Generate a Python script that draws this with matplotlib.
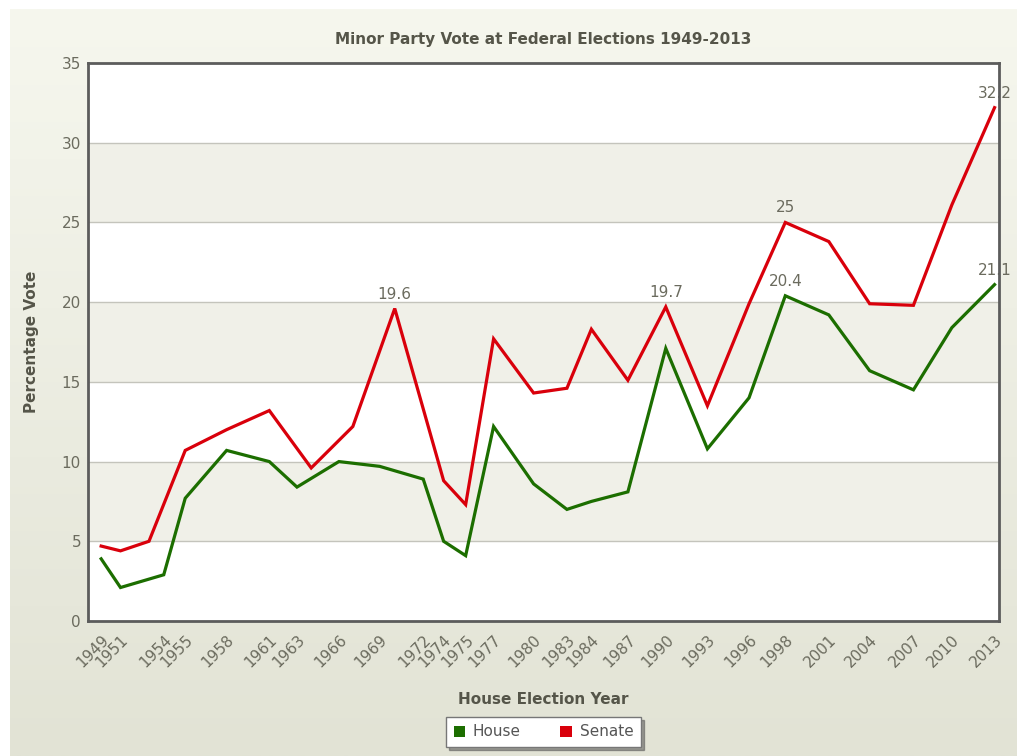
import matplotlib
matplotlib.use('Agg')
import matplotlib.pyplot as plt
import numpy as np
import pandas as pd
from matplotlib.patches import Patch

# House election dates and minor party vote (%)
house_dates = ['1949-12-10', '1951-04-28', '1954-05-29', '1955-12-10', '1958-11-22',
               '1961-12-09', '1963-11-30', '1966-11-26', '1969-10-25', '1972-12-02',
               '1974-05-18', '1975-12-13', '1977-12-10', '1980-10-18', '1983-03-05',
               '1984-12-01', '1987-07-11', '1990-03-24', '1993-03-13', '1996-03-02',
               '1998-10-03', '2001-11-10', '2004-10-09', '2007-11-24', '2010-08-21',
               '2013-09-07']
house_vote = [3.9, 2.1, 2.9, 7.7, 10.7, 10.0, 8.4, 10.0, 9.7, 8.9, 5.0, 4.1, 12.2,
              8.6, 7.0, 7.5, 8.1, 17.1, 10.8, 14.0, 20.4, 19.2, 15.7, 14.5, 18.4, 21.1]

# Senate election dates and minor party vote (%)
senate_dates = ['1949-12-10', '1951-04-28', '1953-05-09', '1955-12-10', '1958-11-22',
                '1961-12-09', '1964-12-05', '1967-11-25', '1970-11-21', '1974-05-18',
                '1975-12-13', '1977-12-10', '1980-10-18', '1983-03-05', '1984-12-01',
                '1987-07-11', '1990-03-24', '1993-03-13', '1996-03-02', '1998-10-03',
                '2001-11-10', '2004-10-09', '2007-11-24', '2010-08-21', '2013-09-07']
senate_vote = [4.7, 4.4, 5.0, 10.7, 12.0, 13.2, 9.6, 12.2, 19.6, 8.8, 7.3, 17.7, 14.3,
               14.6, 18.3, 15.1, 19.7, 13.5, 19.9, 25.0, 23.8, 19.9, 19.8, 26.1, 32.2]

# points that carry a value label
house_labelled = ['1998-10-03', '2013-09-07']
senate_labelled = ['1970-11-21', '1990-03-24', '1998-10-03', '2013-09-07']

tick_col = '#6b6b5e'
title_col = '#555549'
green = '#1c6e00'
red = '#d9000b'

hx = pd.to_datetime(house_dates)
sx = pd.to_datetime(senate_dates)

fig = plt.figure(figsize=(10.17, 7.56), dpi=100)
fig.patch.set_facecolor('white')

# Background panel with a soft vertical gradient
bg = fig.add_axes([10 / 1017, 0, 1 - 10 / 1017, (756 - 9) / 756])
grad = np.linspace(0, 1, 256).reshape(-1, 1)
top_c = np.array([0xf6, 0xf7, 0xee]) / 255
bot_c = np.array([0xe2, 0xe3, 0xd5]) / 255
img = top_c + (bot_c - top_c) * grad
bg.imshow(img.reshape(256, 1, 3), aspect='auto', extent=[0, 1, 0, 1])
bg.set_axis_off()
bg.set_zorder(-10)

ax = fig.add_axes([88 / 1017, (756 - 621) / 756, (999 - 88) / 1017, (621 - 63) / 756])
ax.set_facecolor('white')

# alternating bands: 5-10, 15-20, 25-30 shaded
for lo in [5, 15, 25]:
    ax.axhspan(lo, lo + 5, facecolor='#f0f0e8', edgecolor='none', zorder=0)
for yv in range(5, 35, 5):
    ax.axhline(yv, color='#c4c4bc', lw=1.0, zorder=1)

ax.plot(hx, house_vote, color=green, lw=2.3, zorder=3, solid_joinstyle='miter')
ax.plot(sx, senate_vote, color=red, lw=2.3, zorder=3, solid_joinstyle='miter')

for d, v in zip(house_dates, house_vote):
    if d in house_labelled:
        ax.annotate('{:g}'.format(v), (pd.Timestamp(d), v), xytext=(0, 5),
                    textcoords='offset points', ha='center', va='bottom',
                    fontsize=11, color=tick_col, zorder=4)
for d, v in zip(senate_dates, senate_vote):
    if d in senate_labelled:
        ax.annotate('{:g}'.format(v), (pd.Timestamp(d), v), xytext=(0, 5),
                    textcoords='offset points', ha='center', va='bottom',
                    fontsize=11, color=tick_col, zorder=4)

ax.set_xlim(pd.Timestamp('1949-01-01'), pd.Timestamp('2014-01-01'))
ax.set_ylim(0, 35)
ax.set_yticks(range(0, 36, 5))
ax.set_xticks(hx)
ax.set_xticklabels([d[:4] for d in house_dates], rotation=45, ha='right',
                   rotation_mode='anchor')
ax.tick_params(axis='both', length=0, labelsize=11, labelcolor=tick_col)
ax.tick_params(axis='x', pad=8)
ax.tick_params(axis='y', pad=5)

for s in ax.spines.values():
    s.set_color('#5c5c5c')
    s.set_linewidth(2.0)
    s.set_zorder(5)

ax.set_title('Minor Party Vote at Federal Elections 1949-2013', fontsize=11,
             fontweight='bold', color=title_col, pad=14)
ax.set_xlabel('House Election Year', fontsize=11, fontweight='bold', color=title_col, labelpad=16)
ax.set_ylabel('Percentage Vote', fontsize=11, fontweight='bold', color=title_col, labelpad=16)

leg = ax.legend(handles=[Patch(facecolor=green, edgecolor='none', label='House'),
                         Patch(facecolor=red, edgecolor='none', label='Senate')],
                loc='upper center', bbox_to_anchor=(0.5, -0.158), ncol=2, frameon=True,
                fancybox=False, shadow=True, fontsize=11, handlelength=0.75,
                handleheight=0.75, handletextpad=0.5, columnspacing=2.6, borderpad=0.5)
leg.get_frame().set_edgecolor('#777777')
leg.get_frame().set_linewidth(1.0)
for t in leg.get_texts():
    t.set_color('#555555')

plt.savefig('out.png', dpi=100)
